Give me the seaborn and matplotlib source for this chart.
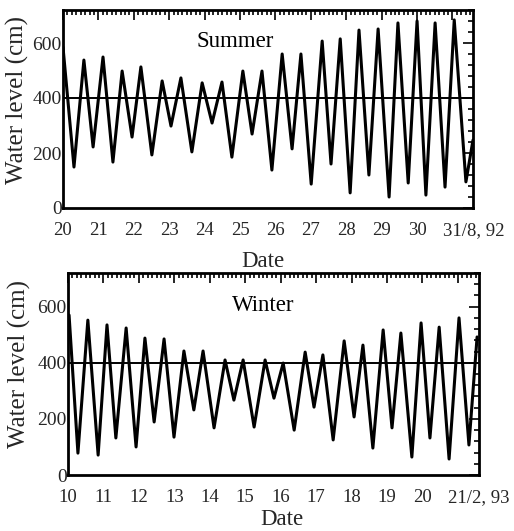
import matplotlib
matplotlib.use("Agg")
import matplotlib.pyplot as plt
from matplotlib.ticker import MultipleLocator, FixedLocator
from matplotlib.transforms import ScaledTranslation
import seaborn as sns
import pandas as pd

# ---- data (times of high/low water, day of month; levels in cm) ----
summer_day = [20.00, 20.31, 20.59, 20.85, 21.13, 21.41, 21.67, 21.95, 22.20, 22.51,
              22.80, 23.05, 23.33, 23.64, 23.93, 24.21, 24.49, 24.77, 25.08, 25.34,
              25.62, 25.90, 26.19, 26.47, 26.72, 27.01, 27.32, 27.57, 27.83, 28.11,
              28.36, 28.64, 28.90, 29.21, 29.46, 29.75, 30.00, 30.25, 30.51, 30.79,
              31.05, 31.38, 31.58]
summer_level = [585, 149, 538, 222, 549, 167, 498, 258, 513, 193,
                462, 298, 473, 204, 455, 309, 458, 185, 498, 269,
                498, 138, 560, 215, 560, 87, 607, 160, 615, 55,
                647, 120, 651, 40, 673, 91, 680, 47, 673, 76,
                684, 95, 247]

winter_day = [10.03, 10.28, 10.56, 10.85, 11.10, 11.35, 11.64, 11.92, 12.17, 12.43,
              12.71, 12.99, 13.27, 13.55, 13.81, 14.12, 14.43, 14.68, 14.94, 15.25,
              15.56, 15.81, 16.07, 16.38, 16.69, 16.94, 17.19, 17.48, 17.79, 18.07,
              18.32, 18.60, 18.89, 19.14, 19.39, 19.70, 19.96, 20.21, 20.47, 20.75,
              21.03, 21.31, 21.54]
winter_level = [570, 78, 552, 71, 535, 132, 524, 100, 488, 189,
                485, 135, 442, 232, 442, 168, 410, 267, 410, 171,
                410, 274, 399, 160, 438, 242, 428, 125, 478, 207,
                463, 96, 517, 168, 506, 64, 542, 132, 527, 57,
                560, 107, 492]

summer_mean = 400
winter_mean = 400

summer_ticks = list(range(20, 32))
summer_ticklabels = [str(d) for d in range(20, 31)] + ["31/8, 92"]
winter_ticks = list(range(10, 22))
winter_ticklabels = [str(d) for d in range(10, 21)] + ["21/2, 93"]
y_ticks = [0, 200, 400, 600]
panel_titles = ["Summer", "Winter"]

# ---- styling ----
sns.set_theme(style="white")
plt.rcParams["font.family"] = ["Liberation Serif", "DejaVu Serif"]

fig = plt.figure(figsize=(5.14, 5.31), dpi=100)
ax1 = fig.add_axes([63 / 514, 1 - 208 / 531, 410 / 514, 198 / 531])
ax2 = fig.add_axes([68 / 514, 1 - 475 / 531, 411 / 514, 202 / 531])

panels = [
    (ax1, summer_day, summer_level, summer_mean, summer_ticks, summer_ticklabels,
     (20, 31.58), (0.42, 0.84), (-0.112, 0.545), (0.488, -0.300)),
    (ax2, winter_day, winter_level, winter_mean, winter_ticks, winter_ticklabels,
     (10, 21.594), (0.474, 0.84), (-0.117, 0.55), (0.52, -0.247)),
]

for (ax, days, levels, mean, ticks, ticklabels, xlim, tpos, ylc, xlc), title in zip(panels, panel_titles):
    df = pd.DataFrame({"day": days, "level": levels})
    sns.lineplot(data=df, x="day", y="level", ax=ax, color="black",
                 linewidth=2.2, estimator=None, sort=False,
                 solid_joinstyle="round", solid_capstyle="round")
    ax.axhline(mean, color="black", linewidth=1.4)
    ax.set_xlim(*xlim)
    ax.set_ylim(0, 720)
    ax.xaxis.set_major_locator(FixedLocator(ticks))
    ax.set_xticklabels(ticklabels)
    ax.xaxis.set_minor_locator(MultipleLocator(1 / 8))
    ax.yaxis.set_major_locator(FixedLocator(y_ticks))
    ax.yaxis.set_minor_locator(MultipleLocator(40))
    ax.tick_params(which="both", direction="in", top=True, right=True,
                   color="black", width=1.2)
    ax.tick_params(which="major", length=7)
    ax.tick_params(which="minor", length=3.5)
    ax.tick_params(axis="x", which="major", labelsize=13.5, pad=10)
    ax.tick_params(axis="y", which="major", labelsize=14, pad=1)
    for s in ax.spines.values():
        s.set_color("black")
        s.set_linewidth(2.0)
    ax.set_xlabel("Date", fontsize=16.5, va="baseline")
    ax.set_ylabel("Water level (cm)", fontsize=18, va="center")
    ax.xaxis.set_label_coords(*xlc)
    ax.yaxis.set_label_coords(*ylc)
    ax.text(tpos[0], tpos[1], title, transform=ax.transAxes, ha="center",
            va="center", fontsize=16.5, color="black")
    ax.grid(False)
    # last (long) date label starts just left of its tick, as in the reference
    last = ax.get_xticklabels()[-1]
    last.set_horizontalalignment("left")
    last.set_transform(last.get_transform() +
                       ScaledTranslation(-0.095, 0, fig.dpi_scale_trans))

fig.savefig("out.png", dpi=100, facecolor="white")
